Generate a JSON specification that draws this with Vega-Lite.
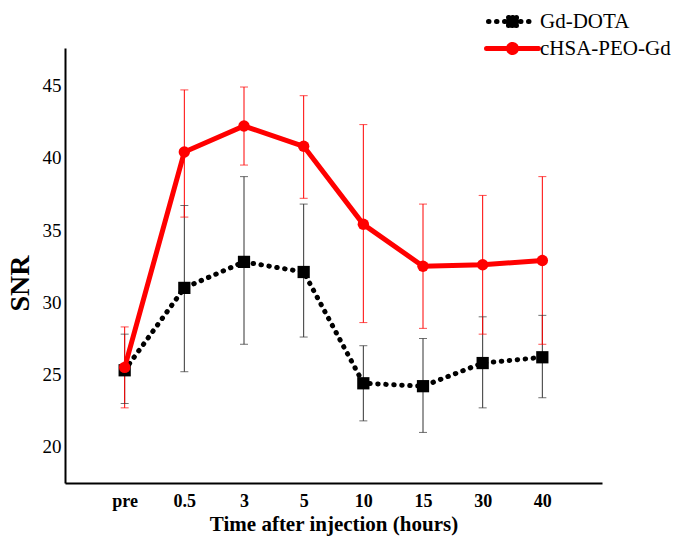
{
  "$schema": "https://vega.github.io/schema/vega-lite/v6.json",
  "width": 537,
  "height": 435,
  "autosize": "none",
  "padding": {"left": 65, "top": 48, "right": 76, "bottom": 55},
  "background": "white",
  "config": {
    "view": {"stroke": null},
    "font": "Liberation Serif",
    "axisY": {"domainColor": "black", "domainWidth": 2, "ticks": false, "grid": false, "labelFont": "Liberation Serif", "labelFontSize": 19, "labelFontWeight": "normal", "labelColor": "black", "labelPadding": 4, "titleFont": "Liberation Serif", "titleFontSize": 28, "titleFontWeight": "bold", "titleColor": "black", "titlePadding": 8, "titleY": 235},
    "axisX": {"domainColor": "black", "domainWidth": 2, "ticks": false, "grid": false, "labelFont": "Liberation Serif", "labelFontSize": 18, "labelFontWeight": "bold", "labelColor": "black", "labelPadding": 9, "labelAngle": 0, "titleFont": "Liberation Serif", "titleFontSize": 21, "titleFontWeight": "bold", "titleColor": "black", "titlePadding": 3}
  },
  "data": {
    "values": [
      {"series": "Gd-DOTA", "time": "pre", "snr": 25.3, "lo": 23.0, "hi": 27.8},
      {"series": "Gd-DOTA", "time": "0.5", "snr": 31.0, "lo": 25.2, "hi": 36.7},
      {"series": "Gd-DOTA", "time": "3", "snr": 32.8, "lo": 27.1, "hi": 38.7},
      {"series": "Gd-DOTA", "time": "5", "snr": 32.1, "lo": 27.6, "hi": 36.8},
      {"series": "Gd-DOTA", "time": "10", "snr": 24.4, "lo": 21.8, "hi": 27.0},
      {"series": "Gd-DOTA", "time": "15", "snr": 24.2, "lo": 21.0, "hi": 27.5},
      {"series": "Gd-DOTA", "time": "30", "snr": 25.8, "lo": 22.7, "hi": 29.0},
      {"series": "Gd-DOTA", "time": "40", "snr": 26.2, "lo": 23.4, "hi": 29.1},
      {"series": "cHSA-PEO-Gd", "time": "pre", "snr": 25.5, "lo": 22.7, "hi": 28.3},
      {"series": "cHSA-PEO-Gd", "time": "0.5", "snr": 40.4, "lo": 35.9, "hi": 44.7},
      {"series": "cHSA-PEO-Gd", "time": "3", "snr": 42.2, "lo": 39.5, "hi": 44.9},
      {"series": "cHSA-PEO-Gd", "time": "5", "snr": 40.8, "lo": 37.2, "hi": 44.3},
      {"series": "cHSA-PEO-Gd", "time": "10", "snr": 35.4, "lo": 28.6, "hi": 42.3},
      {"series": "cHSA-PEO-Gd", "time": "15", "snr": 32.5, "lo": 28.2, "hi": 36.8},
      {"series": "cHSA-PEO-Gd", "time": "30", "snr": 32.6, "lo": 27.8, "hi": 37.4},
      {"series": "cHSA-PEO-Gd", "time": "40", "snr": 32.9, "lo": 27.1, "hi": 38.7}
    ]
  },
  "encoding": {
    "x": {"field": "time", "type": "ordinal", "sort": ["pre", "0.5", "3", "5", "10", "15", "30", "40"], "scale": {"type": "point", "padding": 1}, "title": "Time after injection (hours)"}
  },
  "layer": [
    {
      "mark": {"type": "rule", "strokeWidth": 1},
      "encoding": {
        "y": {"field": "lo", "type": "quantitative", "scale": {"domain": [17.5, 47.6], "nice": false, "zero": false}, "title": "SNR", "axis": {"values": [20, 25, 30, 35, 40, 45]}},
        "y2": {"field": "hi"},
        "color": {"condition": {"test": "datum.series === 'Gd-DOTA'", "value": "#333333"}, "value": "#ff0000"}
      }
    },
    {
      "mark": {"type": "tick", "orient": "horizontal", "size": 8, "thickness": 1},
      "encoding": {
        "y": {"field": "lo", "type": "quantitative", "title": "SNR", "axis": {"values": [20, 25, 30, 35, 40, 45]}},
        "color": {"condition": {"test": "datum.series === 'Gd-DOTA'", "value": "#333333"}, "value": "#ff0000"}
      }
    },
    {
      "mark": {"type": "tick", "orient": "horizontal", "size": 8, "thickness": 1},
      "encoding": {
        "y": {"field": "hi", "type": "quantitative", "title": "SNR", "axis": {"values": [20, 25, 30, 35, 40, 45]}},
        "color": {"condition": {"test": "datum.series === 'Gd-DOTA'", "value": "#333333"}, "value": "#ff0000"}
      }
    },
    {
      "transform": [{"filter": "datum.series === 'Gd-DOTA'"}],
      "mark": {"type": "line", "strokeWidth": 5, "strokeDash": [0.5, 7.5], "strokeCap": "round", "color": "black"},
      "encoding": {
        "y": {"field": "snr", "type": "quantitative", "title": "SNR", "axis": {"values": [20, 25, 30, 35, 40, 45]}}
      }
    },
    {
      "transform": [{"filter": "datum.series === 'Gd-DOTA'"}],
      "mark": {"type": "point", "shape": "square", "filled": true, "size": 150, "color": "black", "opacity": 1},
      "encoding": {
        "y": {"field": "snr", "type": "quantitative", "title": "SNR", "axis": {"values": [20, 25, 30, 35, 40, 45]}}
      }
    },
    {
      "transform": [{"filter": "datum.series === 'cHSA-PEO-Gd'"}],
      "mark": {"type": "line", "strokeWidth": 5, "color": "#ff0000"},
      "encoding": {
        "y": {"field": "snr", "type": "quantitative", "title": "SNR", "axis": {"values": [20, 25, 30, 35, 40, 45]}}
      }
    },
    {
      "transform": [{"filter": "datum.series === 'cHSA-PEO-Gd'"}],
      "mark": {"type": "point", "shape": "circle", "filled": true, "size": 130, "color": "#ff0000", "opacity": 1},
      "encoding": {
        "y": {"field": "snr", "type": "quantitative", "title": "SNR", "axis": {"values": [20, 25, 30, 35, 40, 45]}}
      }
    },
    {
      "transform": [{"filter": "datum.time === 'pre'"}],
      "mark": {"type": "point", "filled": true, "size": 1, "opacity": 0.01},
      "encoding": {
        "y": {"field": "snr", "type": "quantitative", "title": "SNR", "axis": {"values": [20, 25, 30, 35, 40, 45]}},
        "color": {"field": "series", "type": "nominal", "scale": {"domain": ["Gd-DOTA", "cHSA-PEO-Gd"], "range": ["black", "#ff0000"]},
          "legend": {
            "orient": "none", "legendX": 435, "legendY": -39, "title": null, "padding": 0,
            "symbolSize": 400, "symbolStrokeWidth": 5, "symbolOpacity": 1,
            "labelFont": "Liberation Serif", "labelFontSize": 21, "labelColor": "black", "labelOffset": 15, "rowPadding": -11,
            "labelFontWeight": "normal",
            "encode": {
              "symbols": {
                "update": {
                  "shape": {"signal": "datum.value === 'Gd-DOTA' ? 'M-2.4,0L2.4,0M-0.4,-0.4L0.4,-0.4L0.4,0.4L-0.4,0.4ZM0,-0.4L0.4,-0.4L0.4,0.4L-0.4,0.4L-0.4,-0.4Z' : 'M-2.6,0L2.6,0M-0.4,0A0.4,0.4 0 1,0 0.4,0A0.4,0.4 0 1,0 -0.4,0Z'"},
                  "fill": {"signal": "datum.value === 'Gd-DOTA' ? 'black' : '#ff0000'"},
                  "stroke": {"signal": "datum.value === 'Gd-DOTA' ? 'black' : '#ff0000'"},
                  "strokeDash": {"signal": "datum.value === 'Gd-DOTA' ? [0.5, 7.5] : [1, 0]"},
                  "strokeCap": {"value": "round"},
                  "opacity": {"value": 1},
                  "fillOpacity": {"value": 1},
                  "strokeOpacity": {"value": 1}
                }
              }
            }
          }
        }
      }
    }
  ]
}
